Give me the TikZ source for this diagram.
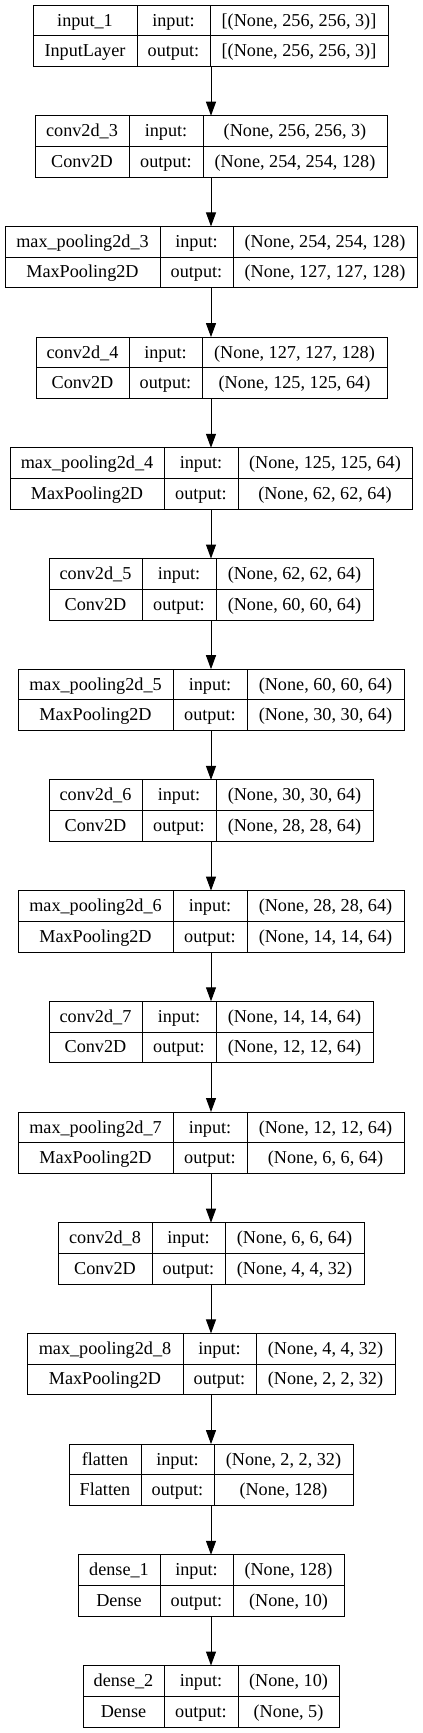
\documentclass[tikz,border=0pt]{standalone}
\usepackage{fontspec}
\setmainfont{Liberation Serif}
\usetikzlibrary{arrows.meta}
\tikzset{
  box/.style={draw=black,line width=1pt,inner sep=0pt,outer sep=0pt,anchor=north west},
  sep/.style={draw=black,line width=1pt},
  lbl/.style={inner sep=0pt,anchor=base,font=\fontsize{18.2}{20}\selectfont},
  conn/.style={line width=1pt,-{Triangle[length=14pt,width=10pt]}}
}
\newcommand\layer[9]{%
  \pgfmathsetmacro\ytop{5+110.7*(#1-1)}%
  \pgfmathsetmacro\bw{#3-#2}%
  \node[box,minimum width=\bw pt,minimum height=61.5pt] (b#1) at (#2,\ytop) {};
  \draw[sep] (b#1.west) -- (b#1.east);
  \draw[sep] (#4,\ytop) -- (#4,\ytop+61.5);
  \draw[sep] (#5,\ytop) -- (#5,\ytop+61.5);
  \node[lbl] (b#1a) at ({(#2+#4)/2},\ytop+21) {#6};
  \node[lbl] (b#1b) at ({(#2+#4)/2},\ytop+51.5) {#7};
  \node[lbl] (b#1c) at ({(#4+#5)/2},\ytop+21) {input:};
  \node[lbl] (b#1d) at ({(#4+#5)/2},\ytop+51.5) {output:};
  \node[lbl] (b#1e) at ({(#5+#3)/2},\ytop+21) {#8};
  \node[lbl] (b#1f) at ({(#5+#3)/2},\ytop+51.5) {#9};
}
\begin{document}
\begin{tikzpicture}[x=1pt,y=-1pt]
\useasboundingbox[fill=white] (0,0) rectangle (423,1733);
\layer{1}{33}{388}{137}{210}{input\_1}{InputLayer}{[(None, 256, 256, 3)]}{[(None, 256, 256, 3)]}
\layer{2}{35}{387}{129}{203}{conv2d\_3}{Conv2D}{(None, 256, 256, 3)}{(None, 254, 254, 128)}
\layer{3}{5}{417}{160}{233}{max\_pooling2d\_3}{MaxPooling2D}{(None, 254, 254, 128)}{(None, 127, 127, 128)}
\layer{4}{36}{387}{129}{202}{conv2d\_4}{Conv2D}{(None, 127, 127, 128)}{(None, 125, 125, 64)}
\layer{5}{10}{412}{164}{238}{max\_pooling2d\_4}{MaxPooling2D}{(None, 125, 125, 64)}{(None, 62, 62, 64)}
\layer{6}{49}{373}{142}{216}{conv2d\_5}{Conv2D}{(None, 62, 62, 64)}{(None, 60, 60, 64)}
\layer{7}{18}{404}{173}{247}{max\_pooling2d\_5}{MaxPooling2D}{(None, 60, 60, 64)}{(None, 30, 30, 64)}
\layer{8}{49}{373}{142}{216}{conv2d\_6}{Conv2D}{(None, 30, 30, 64)}{(None, 28, 28, 64)}
\layer{9}{18}{404}{173}{247}{max\_pooling2d\_6}{MaxPooling2D}{(None, 28, 28, 64)}{(None, 14, 14, 64)}
\layer{10}{49}{373}{142}{216}{conv2d\_7}{Conv2D}{(None, 14, 14, 64)}{(None, 12, 12, 64)}
\layer{11}{18}{404}{173}{247}{max\_pooling2d\_7}{MaxPooling2D}{(None, 12, 12, 64)}{(None, 6, 6, 64)}
\layer{12}{58}{364}{152}{225}{conv2d\_8}{Conv2D}{(None, 6, 6, 64)}{(None, 4, 4, 32)}
\layer{13}{27}{395}{183}{256}{max\_pooling2d\_8}{MaxPooling2D}{(None, 4, 4, 32)}{(None, 2, 2, 32)}
\layer{14}{69}{353}{141}{214}{flatten}{Flatten}{(None, 2, 2, 32)}{(None, 128)}
\layer{15}{78}{344}{160}{233}{dense\_1}{Dense}{(None, 128)}{(None, 10)}
\layer{16}{83}{339}{164}{238}{dense\_2}{Dense}{(None, 10)}{(None, 5)}
\foreach \i [evaluate=\i as \j using int(\i+1)] in {1,...,15}
  \draw[conn] (b\i.south -| 211,0) -- (b\j.north -| 211,0);
\end{tikzpicture}
\end{document}
